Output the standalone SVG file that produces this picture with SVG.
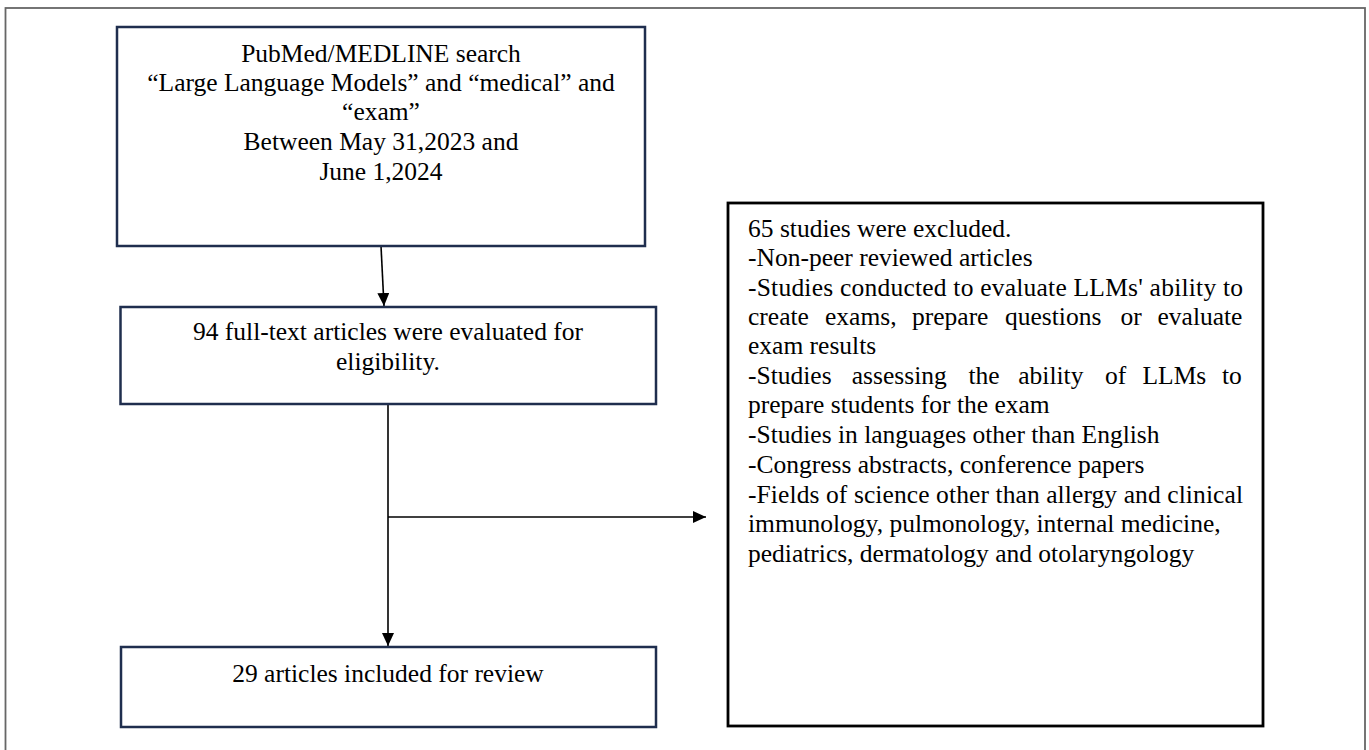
<svg xmlns="http://www.w3.org/2000/svg" width="1369" height="750" viewBox="0 0 1369 750">
  <style>
    .t { font-family: "Liberation Serif", "Times New Roman", serif; font-size: 25.5px; fill: #000; }
    .c { text-anchor: middle; }
    .nb { fill: #fff; stroke: #1f2e4e; stroke-width: 2.5; }
    .xb { fill: #fff; stroke: #000; stroke-width: 2.8; }
    .ln { stroke: #000; stroke-width: 1.6; fill: none; }
  </style>
  <defs>
    <marker id="ah" viewBox="0 0 13 12" refX="13" refY="6" markerWidth="13" markerHeight="12" markerUnits="userSpaceOnUse" orient="auto">
      <path d="M0,0 L13,6 L0,12 z" fill="#000"/>
    </marker>
  </defs>
  <rect x="0" y="0" width="1369" height="750" fill="#fff"/>
  <rect id="frame" x="5.5" y="8" width="1359.5" height="760" fill="none" stroke="#666" stroke-width="1.8"/>

  <g id="connectors">
    <line class="ln" x1="381" y1="246" x2="384" y2="306" marker-end="url(#ah)"/>
    <line class="ln" x1="388" y1="404" x2="388" y2="646" marker-end="url(#ah)"/>
    <line class="ln" x1="388" y1="517" x2="706" y2="517" marker-end="url(#ah)"/>
  </g>

  <g id="search">
    <rect class="nb" x="117" y="27" width="528" height="219"/>
    <text class="t c" x="381" y="62">PubMed/MEDLINE search</text>
    <text class="t c" x="381" y="91">“Large Language Models” and “medical” and</text>
    <text class="t c" x="381" y="120">“exam”</text>
    <text class="t c" x="381" y="150">Between May 31,2023 and</text>
    <text class="t c" x="381" y="180">June 1,2024</text>
  </g>

  <g id="evaluated">
    <rect class="nb" x="120.5" y="307" width="535.5" height="97"/>
    <text class="t c" x="388" y="340">94 full-text articles were evaluated for</text>
    <text class="t c" x="388" y="370">eligibility.</text>
  </g>

  <g id="included">
    <rect class="nb" x="121" y="647" width="535" height="80"/>
    <text class="t c" x="388" y="682">29 articles included for review</text>
  </g>

  <g id="excluded">
    <rect class="xb" x="728" y="203" width="535" height="523"/>
    <text class="t" x="748" y="237">65 studies were excluded.</text>
    <text class="t" x="748" y="266">-Non-peer reviewed articles</text>
    <text class="t" x="748" y="296" textLength="495" lengthAdjust="spacing">-Studies conducted to evaluate LLMs' ability to</text>
    <text class="t" y="325"><tspan x="748">create</tspan><tspan x="825">exams,</tspan><tspan x="912">prepare</tspan><tspan x="1005">questions</tspan><tspan x="1120.5">or</tspan><tspan x="1157.5">evaluate</tspan></text>
    <text class="t" x="748" y="354">exam results</text>
    <text class="t" y="384"><tspan x="748">-Studies</tspan><tspan x="851.8">assessing</tspan><tspan x="968.5">the</tspan><tspan x="1018.3">ability</tspan><tspan x="1105">of</tspan><tspan x="1142.5">LLMs</tspan><tspan x="1222">to</tspan></text>
    <text class="t" x="748" y="413">prepare students for the exam</text>
    <text class="t" x="748" y="443">-Studies in languages other than English</text>
    <text class="t" x="748" y="473">-Congress abstracts, conference papers</text>
    <text class="t" x="748" y="503" textLength="495" lengthAdjust="spacing">-Fields of science other than allergy and clinical</text>
    <text class="t" x="748" y="532">immunology, pulmonology, internal medicine,</text>
    <text class="t" x="748" y="562">pediatrics, dermatology and otolaryngology</text>
  </g>
</svg>
